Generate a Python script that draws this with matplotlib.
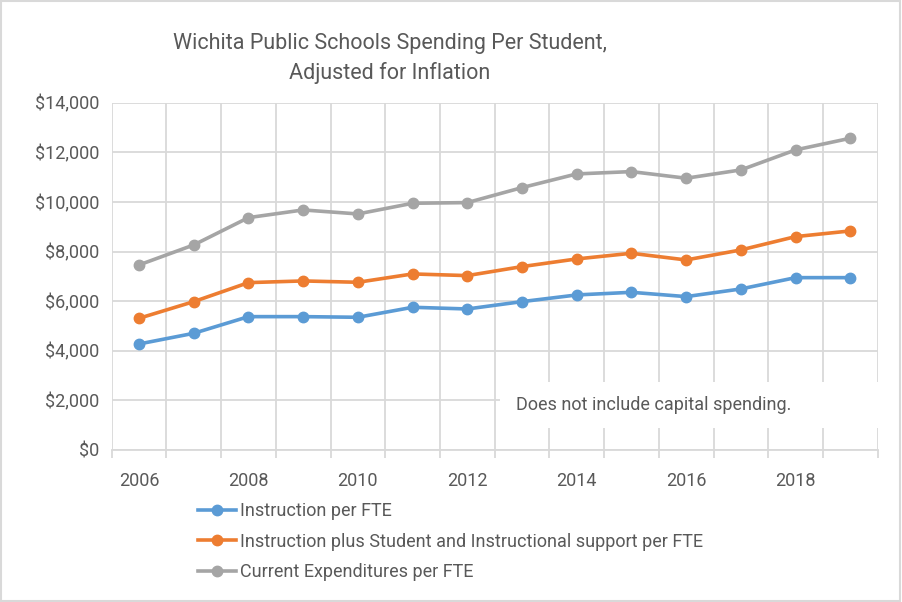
import matplotlib
matplotlib.use("Agg")
from matplotlib import pyplot as plt
from matplotlib.patches import Rectangle

plt.rcParams['font.family'] = ['Roboto', 'DejaVu Sans']

# data
years = ["2006", "2007", "2008", "2009", "2010", "2011", "2012",
         "2013", "2014", "2015", "2016", "2017", "2018", "2019"]
instruction = [4274, 4704, 5376, 5376, 5350, 5753, 5685,
               5981, 6250, 6357, 6183, 6492, 6948, 6948]
instruction_support = [5309, 5981, 6747, 6815, 6761, 7097, 7030,
                       7393, 7702, 7930, 7661, 8065, 8602, 8831]
current_exp = [7460, 8266, 9367, 9677, 9516, 9946, 9973,
               10577, 11129, 11223, 10955, 11290, 12097, 12567]
y_ticks = [0, 2000, 4000, 6000, 8000, 10000, 12000, 14000]

text_c = "#595959"
grid_c = "#D9D9D9"

fig = plt.figure(figsize=(9.02, 6.02), dpi=100)
ax = fig.add_axes([0.1238, 0.2525, 0.8492, 0.5769])

x = list(range(len(years)))
ax.plot(x, instruction, color="#5B9BD5", lw=2.6, marker="o", ms=7.5,
        label="Instruction per FTE", zorder=3)
ax.plot(x, instruction_support, color="#ED7D31", lw=2.6, marker="o", ms=7.5,
        label="Instruction plus Student and Instructional support per FTE", zorder=3)
ax.plot(x, current_exp, color="#A5A5A5", lw=2.6, marker="o", ms=7.5,
        label="Current Expenditures per FTE", zorder=3)

ax.set_xlim(-0.5, len(years) - 0.5)
ax.set_ylim(0, 14000)
ax.set_yticks(y_ticks)
ax.set_yticklabels(["${:,}".format(v) for v in y_ticks])
ax.set_xticks(x[::2])
ax.set_xticklabels(years[::2])
ax.set_xticks([i - 0.5 for i in range(len(years) + 1)], minor=True)

ax.grid(axis="y", color=grid_c, lw=1.3)
ax.grid(axis="x", which="minor", color=grid_c, lw=1.3)
ax.tick_params(axis="x", which="major", length=0, labelsize=13, colors=text_c, pad=16)
ax.tick_params(axis="x", which="minor", length=6, width=1.3, color=grid_c)
ax.tick_params(axis="y", length=0, labelsize=13, colors=text_c, pad=9)
for s in ["top", "right", "left"]:
    ax.spines[s].set_visible(False)
ax.spines["bottom"].set_color(grid_c)
ax.spines["bottom"].set_linewidth(1.3)
ax.set_axisbelow(True)

# note box covering the gridlines
ax.add_patch(Rectangle((0.507, 0.063), 0.5, 0.133, transform=ax.transAxes,
                       facecolor="white", edgecolor="none", zorder=2, clip_on=False))
ax.text(0.528, 0.13, "Does not include capital spending.", transform=ax.transAxes,
        fontsize=13, color=text_c, va="center", ha="left", zorder=4)

fig.text(0.432, 0.903, "Wichita Public Schools Spending Per Student,\nAdjusted for Inflation",
         ha="center", va="center", fontsize=15.5, color=text_c, linespacing=1.45)

fig.legend(loc="upper left", bbox_to_anchor=(0.212, 0.178), frameon=False,
           fontsize=13, labelcolor=text_c, handlelength=2.1, handletextpad=0.2,
           labelspacing=0.7, borderaxespad=0)

fig.patches.append(Rectangle((0.001, 0.001), 0.997, 0.997, transform=fig.transFigure,
                             facecolor="none", edgecolor=grid_c, lw=1.5))

fig.savefig("out.png", dpi=100)
